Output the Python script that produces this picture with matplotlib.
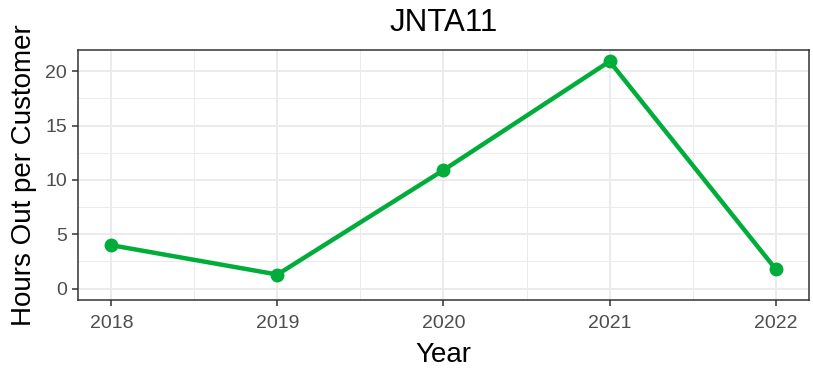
import numpy as np
import matplotlib.pyplot as plt

plt.rcParams['font.family'] = ['Liberation Sans', 'DejaVu Sans']

# Data
years = [2018, 2019, 2020, 2021, 2022]
hours_out = [4.0, 1.3, 10.9, 20.9, 1.8]
y_ticks = [0, 5, 10, 15, 20]

fig = plt.figure(figsize=(8.13, 3.76), dpi=100)
ax = fig.add_axes([0.096, 0.202, 0.899, 0.665])

green = '#00AD3A'
ax.plot(years, hours_out, color=green, linewidth=3.2, marker='o', markersize=9,
        zorder=3, solid_capstyle='butt')

# ggplot-style limits (5% expansion, y range includes 0)
xr = max(years) - min(years)
ax.set_xlim(min(years) - 0.05 * xr, max(years) + 0.05 * xr)
ymax = max(hours_out)
ax.set_ylim(-0.05 * ymax, ymax * 1.05)

ax.set_xticks(years)
ax.set_xticklabels([str(y) for y in years])
ax.set_yticks(y_ticks)
ax.set_xticks([y + 0.5 for y in years[:-1]], minor=True)
ax.set_yticks([t + 2.5 for t in y_ticks[:-1]], minor=True)

ax.grid(which='major', color='#EBEBEB', linewidth=1.4)
ax.grid(which='minor', color='#EBEBEB', linewidth=0.7)
ax.set_axisbelow(True)

ax.tick_params(axis='both', which='major', labelsize=14, colors='#333333',
               labelcolor='#4D4D4D', length=4, width=1.1, pad=4)
ax.tick_params(axis='x', pad=7)
ax.tick_params(which='minor', length=0)
for s in ax.spines.values():
    s.set_color('#333333')
    s.set_linewidth(1.1)

ax.set_title('JNTA11', fontsize=22.5, pad=14)
ax.set_xlabel('Year', fontsize=20, labelpad=7)
ax.set_ylabel('Hours Out per Customer', fontsize=20, labelpad=6)

fig.savefig('out.png', dpi=100)
